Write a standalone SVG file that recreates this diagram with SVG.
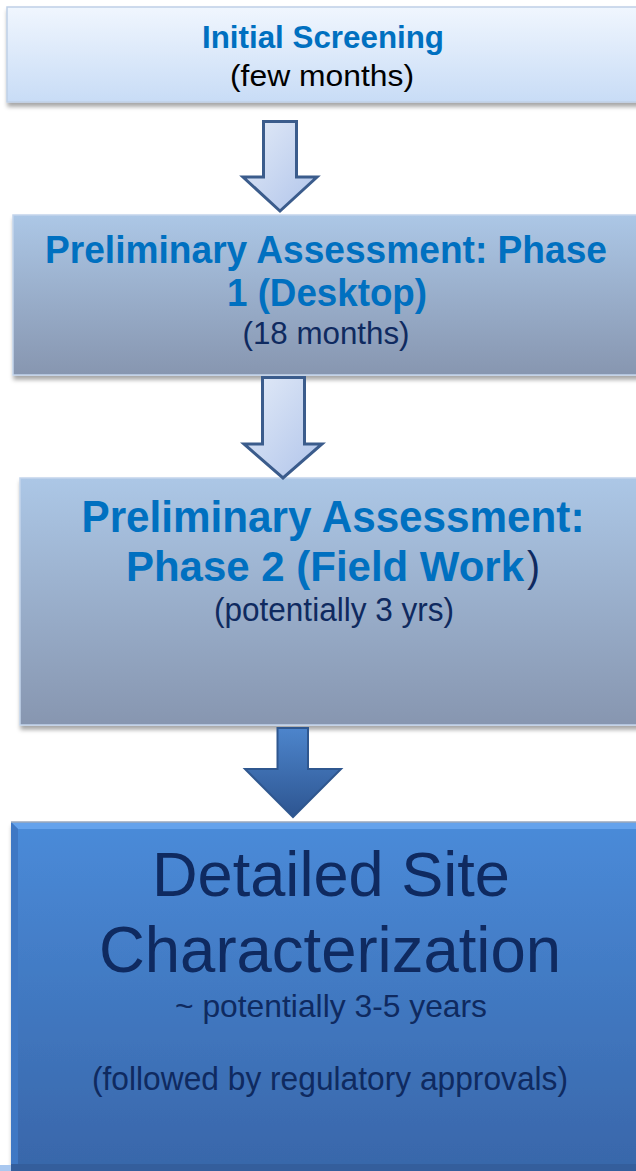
<svg xmlns="http://www.w3.org/2000/svg" width="636" height="1171" viewBox="0 0 636 1171">
<defs>
<linearGradient id="g1" x1="0" y1="0" x2="0" y2="1"><stop offset="0" stop-color="#f0f6fe"/><stop offset="1" stop-color="#c8dcf6"/></linearGradient>
<linearGradient id="g2" x1="0" y1="0" x2="0" y2="1"><stop offset="0" stop-color="#acc7e6"/><stop offset="1" stop-color="#8796b0"/></linearGradient>
<linearGradient id="g4" x1="0" y1="0" x2="0" y2="1"><stop offset="0" stop-color="#4a8bd9"/><stop offset="1" stop-color="#3865a8"/></linearGradient>
<linearGradient id="ga" x1="0" y1="0" x2="1" y2="1"><stop offset="0" stop-color="#e3ebf8"/><stop offset="1" stop-color="#b0c4ea"/></linearGradient>
<linearGradient id="gb" x1="0" y1="0" x2="0" y2="1"><stop offset="0" stop-color="#4d85cc"/><stop offset="1" stop-color="#2d5591"/></linearGradient>
<filter id="sh" x="-5%" y="-10%" width="115%" height="125%"><feDropShadow dx="1" dy="4" stdDeviation="2" flood-color="#000" flood-opacity="0.35"/></filter>
</defs>
<style>
.t{font-family:"Liberation Sans",Arial,sans-serif;text-anchor:middle}
.s{font-family:"Liberation Sans",Arial,sans-serif;text-anchor:start}
.b{font-weight:bold;fill:#0070c0}
.n{fill:#0f2a60}
.k{fill:#000}
.lt{fill:url(#ga);stroke:#3b5c8c;stroke-width:3;stroke-linejoin:miter}
</style>
<g id="node-initial">
<rect x="7" y="7" width="640" height="95" fill="url(#g1)" stroke="#bfd0e6" stroke-width="1.5" filter="url(#sh)"/>
<text class="t b" x="323" y="48" font-size="32" textLength="242" lengthAdjust="spacingAndGlyphs">Initial Screening</text>
<text class="t k" x="322" y="86" font-size="29" textLength="184" lengthAdjust="spacingAndGlyphs">(few months)</text>
</g>
<g id="node-phase1">
<rect x="13" y="215" width="640" height="160" fill="url(#g2)" stroke="#c3d5ec" stroke-width="1.5" filter="url(#sh)"/>
<text class="t b" x="326" y="263" font-size="38" textLength="562" lengthAdjust="spacingAndGlyphs">Preliminary Assessment: Phase</text>
<text class="t b" x="327" y="306" font-size="38" textLength="200" lengthAdjust="spacingAndGlyphs">1 (Desktop)</text>
<text class="t n" x="326" y="344" font-size="32" textLength="167" lengthAdjust="spacingAndGlyphs">(18 months)</text>
</g>
<g id="node-phase2">
<rect x="20" y="478" width="640" height="247" fill="url(#g2)" stroke="#c3d5ec" stroke-width="1.5" filter="url(#sh)"/>
<text class="t b" x="333" y="532" font-size="44" textLength="503" lengthAdjust="spacingAndGlyphs">Preliminary Assessment:</text>
<text class="s b" x="126" y="581" font-size="42" textLength="398" lengthAdjust="spacingAndGlyphs">Phase 2 (Field Work</text>
<text class="s n" x="527" y="581" font-size="42" textLength="13" lengthAdjust="spacingAndGlyphs">)</text>
<text class="t n" x="334" y="621" font-size="33" textLength="240" lengthAdjust="spacingAndGlyphs">(potentially 3 yrs)</text>
</g>
<g id="node-detailed">
<rect x="11" y="822" width="640" height="360" fill="url(#g4)" filter="url(#sh)"/>
<polygon points="11,822 651,822 651,829 18,829" fill="#64a2ec"/>
<polygon points="11,822 18,829 18,1171 11,1171" fill="#3f78c4"/>
<rect x="11" y="1164" width="640" height="7" fill="#345e9c"/>
<line x1="11" y1="822" x2="651" y2="822" stroke="#9aa7bb" stroke-width="1.5"/>
<text class="t n" x="331" y="896" font-size="63" textLength="358" lengthAdjust="spacingAndGlyphs">Detailed Site</text>
<text class="t n" x="330" y="972" font-size="64" textLength="462" lengthAdjust="spacingAndGlyphs">Characterization</text>
<text class="t n" x="331" y="1017" font-size="32" textLength="312" lengthAdjust="spacingAndGlyphs">~ potentially 3-5 years</text>
<text class="t n" x="330" y="1090" font-size="33" textLength="476" lengthAdjust="spacingAndGlyphs">(followed by regulatory approvals)</text>
</g>
<rect x="0" y="1165" width="11" height="6" fill="#a9c8f0"/>
<g id="connectors">
<path class="lt" d="M263.5,121.5 H296.5 V177 H317 L280,211 L243,177 H263.5 Z"/>
<path class="lt" d="M262.5,377.5 H304.5 V444 H322 L283,478 L244,444 H262.5 Z"/>
<path d="M277.5,728 H308 V769 H341 L293,817 L245,769 H277.5 Z" fill="url(#gb)" stroke="#2f578f" stroke-width="2" stroke-linejoin="miter"/>
</g>
</svg>
